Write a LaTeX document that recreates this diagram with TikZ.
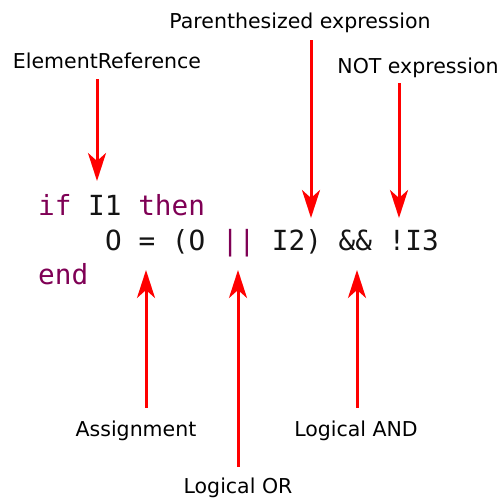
\documentclass[tikz,border=0pt]{standalone}
\usepackage{fontspec}
\setmainfont{DejaVu Sans}
\setmonofont{DejaVu Sans Mono}
\usepackage{tikz}
\usetikzlibrary{
	arrows.meta,
	positioning
}

\definecolor{kwpurple}{RGB}{127,0,85}
\definecolor{ident}{RGB}{20,20,20}

\begin{document}
\begin{tikzpicture}[
			x=1pt, y=-1pt,
			lbl/.style={font=\fontsize{20.5}{24}\selectfont, inner sep=0pt, text height=16pt, text depth=5pt, anchor=base},
			code/.style={font=\fontsize{27.7}{30}\ttfamily, text=ident, inner sep=0pt, anchor=base west},
			callout/.style={draw=red, line width=3pt, -{Stealth[length=28pt, width=18pt, inset=8pt]}}
		]
		\useasboundingbox (0,0) rectangle (504,499);

		% code lines
		\node[code] (l1) at (38,215) {\textcolor{kwpurple}{if} I1 \textcolor{kwpurple}{then}};
		\node[code] (l2) at (105,250) {O = (O \textcolor{kwpurple}{||} I2) \&\& !I3};
		\node[code] (l3) at (38,284) {\textcolor{kwpurple}{end}};

		% labels
		\node[lbl] (elemref) at (107,68) {ElementReference};
		\node[lbl] (paren) at (300,28) {Parenthesized expression};
		\node[lbl] (notexp) at (418,73) {NOT expression};
		\node[lbl] (assign) at (136,436) {Assignment};
		\node[lbl] (land) at (356,436) {Logical AND};
		\node[lbl] (lor) at (238,493) {Logical OR};

		% arrow tips
		\coordinate (elemtip) at (97,181);
		\coordinate (parentip) at (311,218);
		\coordinate (nottip) at (399,218);
		\coordinate (assigntip) at (146,270);
		\coordinate (ortip) at (238,270);
		\coordinate (andtip) at (357,270);

		\draw[callout, shorten <=6pt] (elemref.south -| elemtip) -- (elemtip);
		\draw[callout, shorten <=7pt] (paren.south -| parentip) -- (parentip);
		\draw[callout, shorten <=5pt] (notexp.south -| nottip) -- (nottip);
		\draw[callout, shorten <=12pt] (assign.north -| assigntip) -- (assigntip);
		\draw[callout, shorten <=12pt] (land.north -| andtip) -- (andtip);
		\draw[callout, shorten <=10pt] (lor.north -| ortip) -- (ortip);
	\end{tikzpicture}
\end{document}
